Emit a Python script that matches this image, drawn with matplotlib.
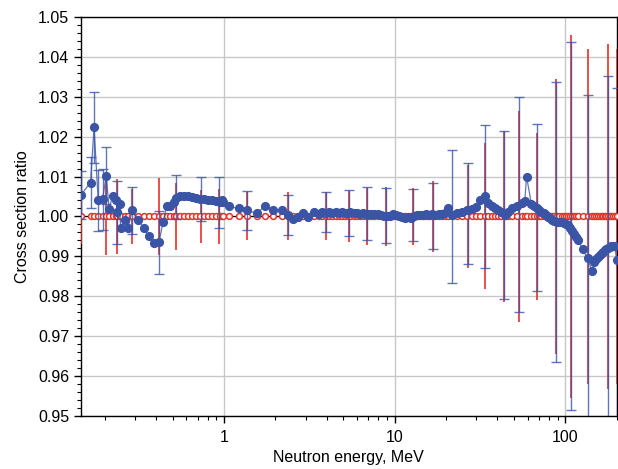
import matplotlib
matplotlib.use("Agg")
import matplotlib.pyplot as plt
import matplotlib.ticker as mticker
import numpy as np

plt.rcParams['font.family'] = ['Liberation Sans', 'DejaVu Sans']

# measured / calculated cross section ratio (blue points)
energy = [0.145, 0.165, 0.173, 0.183, 0.194, 0.204, 0.212, 0.222, 0.232, 0.237,
          0.244, 0.248, 0.262, 0.273, 0.290, 0.315, 0.340, 0.362, 0.389, 0.415,
          0.439, 0.461, 0.485, 0.507, 0.525, 0.550, 0.583, 0.615, 0.649, 0.685,
          0.723, 0.763, 0.806, 0.851, 0.898, 0.947, 0.975, 0.99,
          1.063, 1.216, 1.364, 1.554, 1.738, 1.945, 2.178, 2.380, 2.549, 2.724,
          2.914, 3.1, 3.37, 3.6, 3.75, 3.95, 4.1, 4.3, 4.5, 4.7, 4.9, 5.1, 5.3,
          5.5, 5.8, 6.0, 6.3, 6.5, 6.8, 7.0, 7.3, 7.6, 8.0, 8.3, 8.6, 9.0, 9.4,
          9.8, 10.2, 10.6, 11.0, 11.5, 12.0, 12.5, 13.0, 13.5, 14.0, 14.6, 15.2,
          15.9, 16.5, 17.3, 18.1, 19.0, 19.8, 20.6, 21.6, 23.1, 24.7, 26.4,
          28.2, 30.1, 31.6, 33.8, 35.3, 36.9, 38.7, 40.3, 42.2, 44.3, 46.4,
          48.8, 51.8, 55.5, 57.8, 59.2, 63.3, 65.5, 67.8, 70, 72, 74.5, 77, 79,
          81, 83.5, 86, 89, 92, 95, 98, 101, 104, 107, 110, 113, 116, 119, 126,
          135, 143, 148, 152, 156, 159, 163, 167, 170, 174, 178, 182, 186, 190,
          194, 200]
ratio = [1.0054, 1.0085, 1.0223, 1.0040, 1.0043, 1.0102, 1.0019, 1.0051, 1.0040, 1.0010,
         1.0030, 0.9970, 0.9991, 0.9970, 1.0016, 0.9990, 0.9970, 0.9950, 0.9933, 0.9935,
         0.9985, 1.0026, 1.0027, 1.0035, 1.0045, 1.0050, 1.0051, 1.0050, 1.0048, 1.0047,
         1.0044, 1.0043, 1.0041, 1.0040, 1.0039, 1.0037, 1.0041, 1.0035,
         1.0025, 1.0020, 1.0015, 1.0008, 1.0026, 1.0015, 1.0015, 1.0004, 0.9993, 0.9998,
         1.0008, 0.9998, 1.0012, 1.0005, 1.0012, 1.0009, 1.0010, 1.0008, 1.0011, 1.0009, 1.0010, 1.0008, 1.0009,
         1.0010, 1.0008, 1.0009, 1.0007, 1.0008, 1.0006, 1.0007, 1.0006, 1.0005, 1.0007, 1.0004, 1.0001, 1.0000, 1.0002,
         1.0005, 1.0004, 1.0002, 0.9998, 0.9997, 0.9998, 0.9997, 1.0001, 1.0004, 1.0003, 1.0004, 1.0005,
         1.0004, 1.0005, 1.0004, 1.0005, 1.0006, 1.0008, 1.0020, 1.0004, 1.0008, 1.0011, 1.0015,
         1.0018, 1.0023, 1.0040, 1.0052, 1.0033, 1.0027, 1.0022, 1.0016, 1.0010, 1.0004, 1.0012,
         1.0020, 1.0027, 1.0033, 1.0038, 1.0100, 1.0030, 1.0025, 1.0020, 1.0016, 1.0012, 1.0008, 1.0003, 0.9999,
         0.9995, 0.9992, 0.9989, 0.9987, 0.9986, 0.9985, 0.9983, 0.9981, 0.9978, 0.9972, 0.9963, 0.9955, 0.9948, 0.9941, 0.9918,
         0.9895, 0.9864, 0.9885, 0.9893, 0.9899, 0.9904, 0.9908, 0.9912, 0.9916, 0.9919, 0.9922, 0.9924, 0.9925, 0.9926,
         0.9926, 0.9891]

# error bars on the blue points
bar_e = [0.145, 0.165, 0.173, 0.183, 0.194, 0.204, 0.237, 0.290, 0.415, 0.525,
         0.733, 0.94, 1.364, 2.38, 3.94, 5.42, 6.85, 8.86, 12.85, 16.8,
         21.8, 26.7, 33.8, 43.9, 53.5, 67.8, 87.6, 107.9, 135, 177, 200]
bar_y = [1.0054, 1.0085, 1.0223, 1.0040, 1.0043, 1.0102, 1.0010, 1.0015, 0.9935, 1.0048,
         1.0044, 1.0035, 1.0015, 1.0004, 1.0011, 1.0009, 1.0007, 1.0002, 1.0003, 1.0002,
         1.0000, 1.0008, 1.0050, 1.0004, 1.0030, 1.0022, 0.9986, 0.9976, 0.9895, 0.9922, 0.9891]
bar_err = [0.0060, 0.0065, 0.0090, 0.0077, 0.0077, 0.0072, 0.0080, 0.0059, 0.0078, 0.0055,
           0.0055, 0.0063, 0.0050, 0.0050, 0.0051, 0.0057, 0.0066, 0.0069, 0.0065, 0.0083,
           0.0166, 0.0127, 0.0178, 0.0210, 0.0270, 0.0210, 0.0350, 0.0461, 0.0410, 0.0430, 0.0430]

# reference (red) error bars, centred on 1.000
ref_bar_e = [0.145, 0.204, 0.237, 0.290, 0.415, 0.525, 0.733, 0.94, 1.364, 2.38,
             3.94, 5.42, 6.85, 8.86, 12.85, 16.8, 26.7, 33.8, 43.9, 53.5,
             67.8, 87.6, 107.9, 135, 177, 200]
ref_bar_err = [0.0070, 0.0096, 0.0095, 0.0070, 0.0097, 0.0085, 0.0066, 0.0070, 0.0060, 0.0060,
               0.0060, 0.0063, 0.0072, 0.0075, 0.0072, 0.0088, 0.0130, 0.0183, 0.0215, 0.0265,
               0.0210, 0.0345, 0.0455, 0.0420, 0.0432, 0.0420]

blue = '#3a54a6'
red = '#e8302a'

fig = plt.figure(figsize=(6.18, 4.69), dpi=100)
ax = fig.add_axes([0.131, 0.113, 0.867, 0.851])

ax.axhline(1.0, color='black', lw=0.9, zorder=2)
ax.errorbar(ref_bar_e, np.ones(len(ref_bar_e)), yerr=ref_bar_err, fmt='none',
            ecolor=red, elinewidth=1.2, capsize=0, zorder=3)
ax.plot(energy, np.ones(len(energy)), 'o', ms=4.2, mfc='white', mec=red,
        mew=1.1, zorder=4)
ax.errorbar(bar_e, bar_y, yerr=bar_err, fmt='none', ecolor=blue, elinewidth=1.0,
            capsize=3.5, capthick=1.0, alpha=0.8, zorder=5)
ax.plot(energy, ratio, '-', color=blue, lw=0.9, alpha=0.8, zorder=6)
ax.plot(energy, ratio, 'o', ms=5.6, color=blue, mec=blue, zorder=7)

ax.set_xscale('log')
ax.set_xlim(0.145, 200)
ax.set_ylim(0.95, 1.05)
ax.xaxis.set_major_formatter(mticker.FuncFormatter(lambda v, p: '%g' % v))
ax.xaxis.set_minor_formatter(mticker.NullFormatter())
ax.yaxis.set_major_locator(mticker.MultipleLocator(0.01))
ax.yaxis.set_minor_locator(mticker.MultipleLocator(0.002))
ax.yaxis.set_major_formatter(mticker.FormatStrFormatter('%.2f'))
ax.tick_params(which='major', direction='out', length=5, width=1, labelsize=11.5)
ax.tick_params(axis='x', which='major', pad=5)
ax.tick_params(which='minor', direction='out', length=3, width=0.8)
ax.grid(True, which='major', color='#c8c8c8', lw=1)
ax.set_axisbelow(True)
for s in ax.spines.values():
    s.set_linewidth(1.0)

ax.set_xlabel('Neutron energy, MeV', fontsize=11.5, labelpad=4)
ax.set_ylabel('Cross section ratio', fontsize=11.5, labelpad=6)

fig.savefig('out.png', dpi=100)
